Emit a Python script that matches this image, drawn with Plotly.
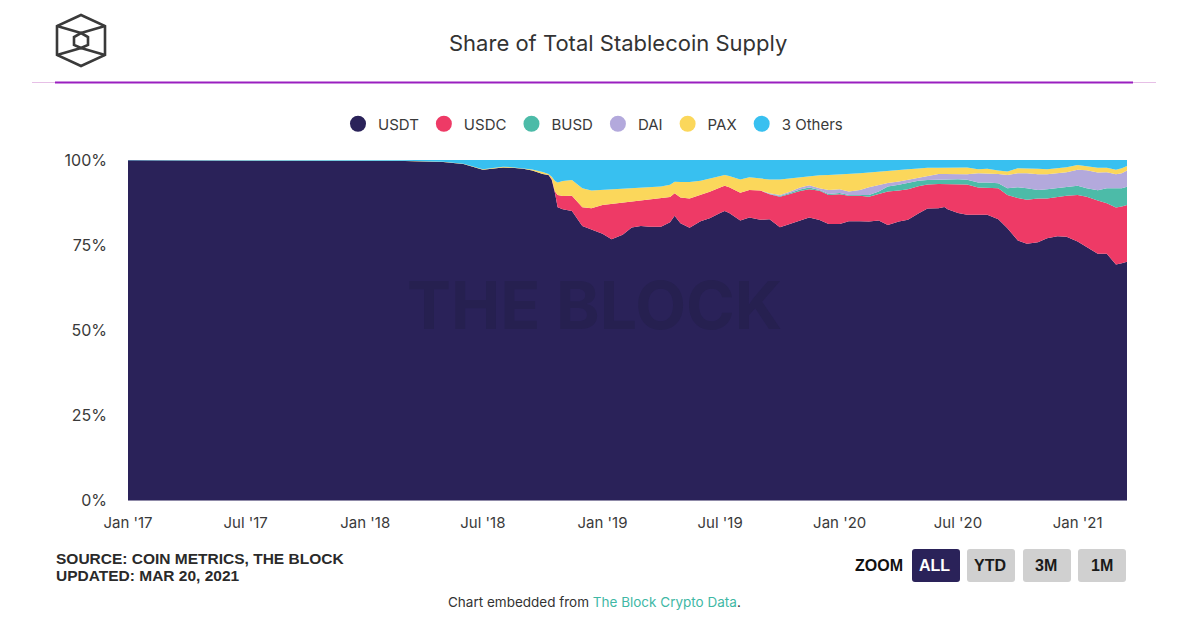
import plotly.graph_objects as go

dates = ["2017-01-01","2017-07-01","2018-01-01","2018-03-03","2018-05-01","2018-06-01","2018-07-01","2018-07-15","2018-08-01","2018-08-15","2018-09-01","2018-09-15","2018-10-01","2018-10-10","2018-10-15","2018-10-20","2018-10-24","2018-11-01","2018-11-15","2018-12-01","2018-12-15",
"2019-01-01","2019-01-15","2019-02-01","2019-02-15","2019-03-01","2019-03-15","2019-04-01","2019-04-15","2019-04-22","2019-05-01","2019-05-15","2019-06-01","2019-06-15","2019-07-01","2019-07-08","2019-07-15","2019-08-01","2019-08-15","2019-09-01","2019-09-15","2019-10-01","2019-10-15","2019-11-01","2019-11-15","2019-12-01","2019-12-15",
"2020-01-01","2020-01-15","2020-02-01","2020-02-15","2020-03-01","2020-03-15","2020-04-01","2020-04-15","2020-05-01","2020-05-15","2020-06-01","2020-06-10","2020-06-15","2020-07-01","2020-07-15","2020-08-01","2020-08-15","2020-09-01","2020-09-15","2020-10-01","2020-10-15","2020-11-01","2020-11-15","2020-12-01","2020-12-15",
"2021-01-01","2021-01-15","2021-02-01","2021-02-15","2021-03-01","2021-03-10","2021-03-18"]

usdt = [99.9,99.9,99.8,99.7,99.4,98.8,97.1,97.4,97.8,97.7,97.4,96.9,95.9,95.6,94.1,90.2,86.1,85.5,85.0,80.6,79.6,
78.2,76.7,77.9,80.1,80.5,80.3,80.3,81.7,83.6,81.4,80.1,82.0,82.8,84.3,85.0,84.3,82.2,83.0,82.4,82.5,80.2,81.2,82.3,83.0,82.0,81.2,
81.2,82.1,82.1,82.0,82.2,80.9,81.9,82.4,84.3,85.8,86.1,86.4,85.8,84.5,84.0,83.8,83.8,82.5,79.9,76.3,75.4,75.8,77.0,77.6,77.4,
76.0,74.5,72.5,72.4,69.3,69.6,70.1]
usdc = [0,0,0,0,0,0,0,0,0,0,0,0,0,0,0.3,0.5,3.6,3.9,4.5,5.5,6.2,
8.5,10.4,9.5,7.6,7.5,7.9,8.2,7.4,6.6,7.6,8.6,7.7,7.8,7.5,7.4,7.6,8.2,8.1,8.6,7.3,9.0,8.8,8.7,8.3,8.6,8.5,
8.7,7.5,7.5,7.3,7.7,9.8,9.1,9.0,8.0,7.1,7.1,6.8,7.4,8.6,8.9,8.0,8.0,9.1,9.8,12.5,12.9,12.9,11.7,11.6,12.1,
13.7,14.7,15.7,14.9,16.7,16.7,16.7]
busd = [0,0,0,0,0,0,0,0,0,0,0,0,0,0,0,0,0,0,0,0,0,
0,0,0,0,0,0,0,0,0,0,0,0,0,0,0,0,0,0,0,0.1,0.2,0.3,0.4,0.5,0.2,0.3,
0.4,0.2,0.2,0.5,0.8,1.5,1.7,1.8,1.6,1.3,1.3,1.3,1.3,1.3,1.4,1.5,1.5,1.5,2.0,3.2,3.4,2.5,2.7,2.5,2.6,
2.7,2.5,3.0,4.4,5.8,5.4,5.3]
dai = [0,0,0,0,0,0,0,0,0,0,0,0,0,0,0,0,0,0,0,0,0,
0,0,0,0,0,0,0,0,0,0,0,0,0,0,0,0,0,0,0,0.2,0.3,0.4,0.6,0.7,0.5,1.2,
1.1,1.0,1.5,2.3,2.0,1.0,1.0,1.0,0.7,1.0,1.7,1.7,1.7,1.7,1.6,2.7,2.7,2.7,3.9,4.1,4.4,4.6,4.4,4.4,4.3,
4.7,5.3,5.2,4.7,4.0,4.4,4.8]
pax = [0,0,0.1,0.1,0.1,0.1,0.2,0.2,0.2,0.2,0.2,0.3,0.6,0.3,0.7,3.1,3.7,4.4,4.6,5.6,5.2,
4.4,4.1,3.9,3.7,3.6,3.7,3.6,3.6,3.4,4.5,4.8,4.2,3.9,3.5,3.2,3.3,3.9,3.7,3.6,4.1,4.6,4.0,3.0,2.7,3.8,4.4,
4.3,5.1,4.9,4.3,3.9,3.7,3.4,3.1,2.9,2.6,1.8,1.8,1.8,1.8,2.0,1.2,1.3,1.0,1.0,1.5,1.5,1.6,1.5,1.5,1.5,
1.4,1.2,1.4,1.3,1.3,1.5,1.3]
others = [0.1,0.1,0.1,0.2,0.5,1.1,2.7,2.4,2.0,2.1,2.4,2.8,3.5,4.1,4.9,6.2,6.6,6.2,5.9,8.3,9.0,
8.8,8.8,8.6,8.5,8.3,8.0,7.8,7.3,6.4,6.5,6.5,6.1,5.4,4.6,4.4,4.7,5.7,5.1,5.4,5.7,5.7,5.4,5.1,4.7,4.5,4.4,
4.3,4.2,3.9,3.7,3.4,3.1,2.9,2.7,2.5,2.3,2.3,2.3,2.3,2.2,2.2,2.7,2.6,3.1,3.4,2.4,2.4,2.6,2.7,2.4,2.1,
1.5,1.8,2.3,2.3,2.9,2.4,1.8]

series_names = ["USDT","USDC","BUSD","DAI","PAX","3 Others"]
series_values = [usdt,usdc,busd,dai,pax,others]
series_colors = ["#2a2259","#ee3a66","#4cbba8","#b3a9dc","#fbd75b","#38c0f0"]

x_tickvals = ["2017-01-01","2017-07-01","2018-01-01","2018-07-01","2019-01-01","2019-07-01","2020-01-01","2020-07-01","2021-01-01"]
x_ticktext = ["Jan '17","Jul '17","Jan '18","Jul '18","Jan '19","Jul '19","Jan '20","Jul '20","Jan '21"]
y_tickvals = [0,25,50,75,100]
y_ticktext = ["0%","25%","50%","75%","100%"]

W,H = 1184,617
L,R,T,B = 128,1127,160,500
FONT = "Inter"
ARIAL = "Liberation Sans"
TXT = "#3a3a3a"
def px(x): return (x-L)/(R-L)
def py(y): return (B-y)/(B-T)

fig = go.Figure()
for n,v,c in zip(series_names,series_values,series_colors):
    fig.add_trace(go.Scatter(x=dates,y=v,name=n,mode="lines",stackgroup="one",groupnorm="percent",
        line=dict(width=0,color=c),fillcolor=c,showlegend=False,legendgroup=n))
for n,c in zip(series_names,series_colors):
    fig.add_trace(go.Scatter(x=[None],y=[None],name=n,mode="markers",legendgroup=n,
        marker=dict(size=16,color=c,symbol="circle")))

shapes=[]
def line(x0,y0,x1,y1,color,width):
    shapes.append(dict(type="line",xref="paper",yref="paper",x0=px(x0),y0=py(y0),x1=px(x1),y1=py(y1),line=dict(color=color,width=width)))
# header rules
line(32,82.5,1156,82.5,"#e6bfe6",1)
line(55,82.5,1133,82.5,"#9a1fc0",2)
# logo
logo_c="#3a3a3a"
hexa=[(81,15),(105,26),(105,55),(81,66),(57,55),(57,26)]
inner=[(81,33),(88,37),(88,45),(81,48),(74,45),(74,37)]
for pts in (hexa,inner):
    d="M "+" L ".join(f"{px(a)},{py(b)}" for a,b in pts)+" Z"
    shapes.append(dict(type="path",xref="paper",yref="paper",path=d,line=dict(color=logo_c,width=2.6)))
for a,b,c,d_ in [(57,26,81,33),(105,26,81,33),(57,55,81,48),(105,55,81,48)]:
    line(a,b,c,d_,logo_c,2.6)
# buttons
def rrect(x0,y0,x1,y1,r,color):
    xs=lambda v:px(v); ys=lambda v:py(v)
    d=(f"M {xs(x0+r)},{ys(y0)} L {xs(x1-r)},{ys(y0)} Q {xs(x1)},{ys(y0)} {xs(x1)},{ys(y0+r)} "
       f"L {xs(x1)},{ys(y1-r)} Q {xs(x1)},{ys(y1)} {xs(x1-r)},{ys(y1)} L {xs(x0+r)},{ys(y1)} "
       f"Q {xs(x0)},{ys(y1)} {xs(x0)},{ys(y1-r)} L {xs(x0)},{ys(y0+r)} Q {xs(x0)},{ys(y0)} {xs(x0+r)},{ys(y0)} Z")
    shapes.append(dict(type="path",xref="paper",yref="paper",path=d,fillcolor=color,line=dict(width=0)))
buttons=[("ALL",912,960,"#2a2259","#ffffff",934),("YTD",967,1015,"#d0d0d0","#1a1a1a",990),("3M",1023,1071,"#d0d0d0","#1a1a1a",1046),("1M",1078,1126,"#d0d0d0","#1a1a1a",1102)]
for t,a,b,c,tc,cx in buttons:
    rrect(a,549,b,582,3,c)

ann=[]
def text(x,y,s,size,color,anchor="center",family=FONT,bold=False):
    ann.append(dict(xref="paper",yref="paper",x=px(x),y=py(y),text=f"<b>{s}</b>" if bold else s,showarrow=False,
        xanchor=anchor,yanchor="middle",font=dict(size=size,color=color,family=family),align="left"))
text(618,43,"Share of Total Stablecoin Supply",22,"#333333")
text(594,305,"THE BLOCK",66,"#262050",family=FONT,bold=True)
text(54,558,"SOURCE: COIN METRICS, THE BLOCK",15.5,"#2a2a2a","left",ARIAL,True)
text(54,575,"UPDATED: MAR 20, 2021",15.5,"#2a2a2a","left",ARIAL,True)
text(879,565,"ZOOM",16,"#111111","center",ARIAL,True)
for t,a,b,c,tc,cx in buttons:
    text(cx,565,t,16,tc,"center",ARIAL,True)
text(594,602,'Chart embedded from <span style="color:#3fb8a5">The Block Crypto Data</span>.',13.5,"#333333")

fig.update_layout(
    width=W,height=H,autosize=False,
    margin=dict(l=L,r=W-R,t=T,b=H-B,pad=0),
    paper_bgcolor="white",plot_bgcolor="white",
    font=dict(family=FONT,color=TXT,size=16),
    shapes=shapes,annotations=ann,
    legend=dict(orientation="h",x=px(593),xanchor="center",y=py(124),yanchor="middle",
        font=dict(size=15,color=TXT,family=FONT),itemclick=False,itemdoubleclick=False,traceorder="normal"),
    xaxis=dict(type="date",range=["2017-01-01","2021-03-18"],tickvals=x_tickvals,ticktext=x_ticktext,
        showgrid=False,zeroline=False,showline=True,linecolor="#8f8aa8",linewidth=1,ticks="",
        tickfont=dict(size=15,color=TXT),ticklabelstandoff=9),
    yaxis=dict(range=[0,100],tickvals=y_tickvals,ticktext=y_ticktext,showgrid=False,zeroline=False,
        showline=False,ticks="",tickfont=dict(size=16,color=TXT),ticklabelstandoff=20),
)
fig.write_html("out.html",config={"displayModeBar":False},post_script="document.body.style.margin='0';document.body.style.overflow='hidden';")
